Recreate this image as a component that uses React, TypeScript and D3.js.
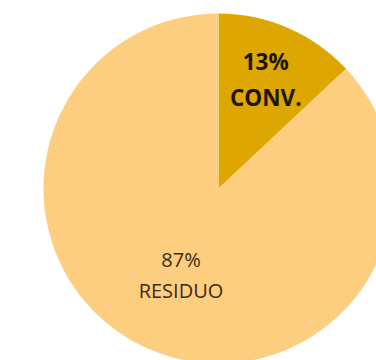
import React from "react";
import * as d3 from "d3";

const categories = ["CONV.", "RESIDUO"];
const values = [13, 87];
const labels = ["13%", "87%"];

const colors = ["#DEA600", "#FDCD80"];
const labelRadiusFactor = [0.68, 0.54];
const labelWeight = [700, 400];
const labelColor = ["#1c1608", "#3b2c14"];
const labelSize = [22.5, 20];
const lineOffsets = [[-9, 27], [-8, 23]];

export default function App() {
  const W = 376, H = 360;
  const cx = 218.5, cy = 188.5, R = 175;
  const pie = d3.pie<number>().sort(null).value((d) => d)(values);
  const arc = d3.arc<d3.PieArcDatum<number>>().innerRadius(0).outerRadius(R);
  return (
    <svg width={W} height={H} style={{ position: "fixed", left: 0, top: 0, background: "#fff" }}>
      <g transform={`translate(${cx},${cy})`}>
        {pie.map((p, i) => (
          <path key={i} d={arc(p) || ""} fill={colors[i]} />
        ))}
        {pie.map((p, i) => {
          const r = R * labelRadiusFactor[i];
          const la = d3.arc<d3.PieArcDatum<number>>().innerRadius(r).outerRadius(r);
          const [x, y] = la.centroid(p);
          return (
            <text key={i} textAnchor="middle" fontFamily="'Open Sans', sans-serif"
              fontWeight={labelWeight[i]} fill={labelColor[i]} fontSize={labelSize[i]}>
              <tspan x={x} y={y + lineOffsets[i][0]}>{labels[i]}</tspan>
              <tspan x={x} y={y + lineOffsets[i][1]}>{categories[i]}</tspan>
            </text>
          );
        })}
      </g>
    </svg>
  );
}
